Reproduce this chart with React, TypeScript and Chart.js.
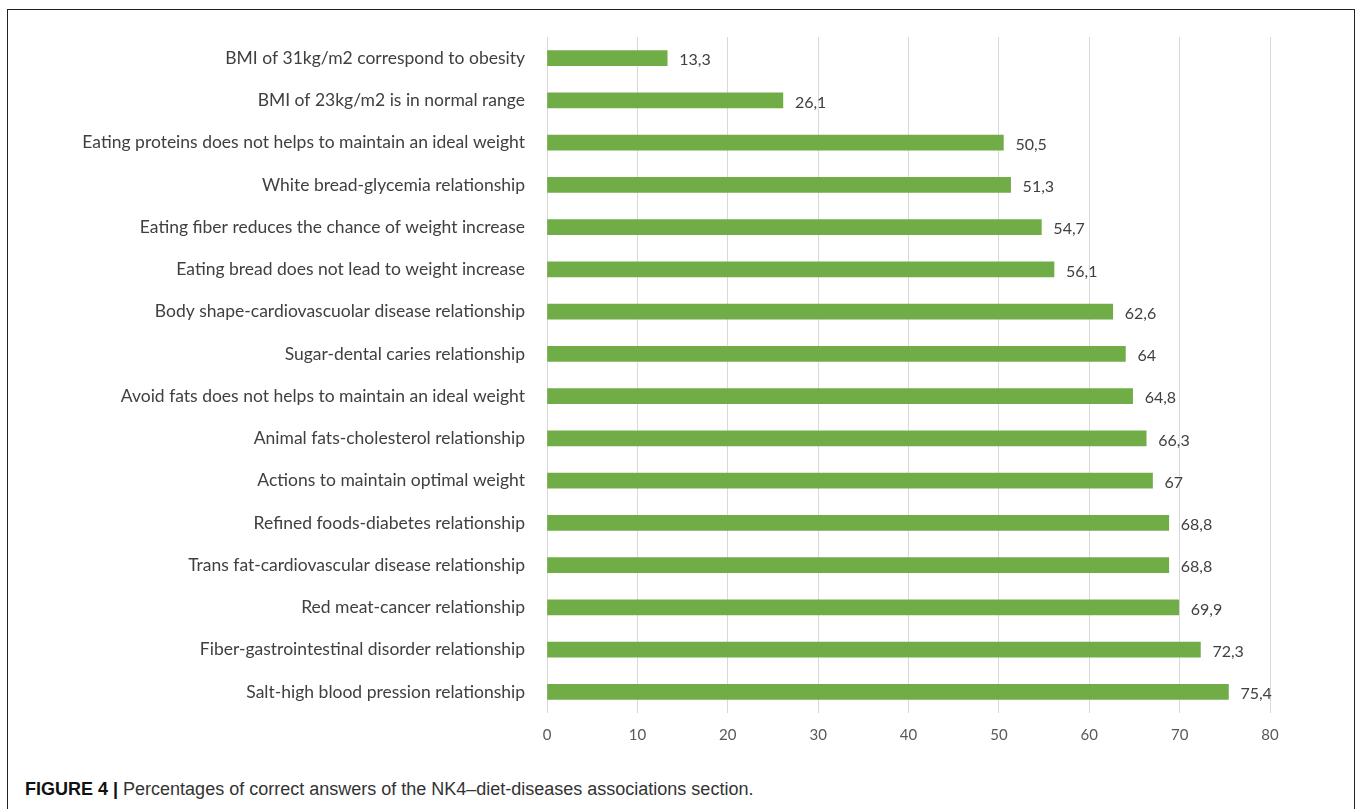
import React, { useEffect, useRef } from "react";
import { Chart, registerables } from "chart.js";

Chart.register(...registerables);

const categories = [
  "BMI of 31kg/m2 correspond to obesity",
  "BMI of 23kg/m2 is in normal range",
  "Eating proteins does not helps to maintain an ideal weight",
  "White bread-glycemia relationship",
  "Eating fiber reduces the chance of weight increase",
  "Eating bread does not lead to weight increase",
  "Body shape-cardiovascuolar disease relationship",
  "Sugar-dental caries relationship",
  "Avoid fats does not helps to maintain an ideal weight",
  "Animal fats-cholesterol relationship",
  "Actions to maintain optimal weight",
  "Refined foods-diabetes relationship",
  "Trans fat-cardiovascular disease relationship",
  "Red meat-cancer relationship",
  "Fiber-gastrointestinal disorder relationship",
  "Salt-high blood pression relationship",
];

const values = [13.3, 26.1, 50.5, 51.3, 54.7, 56.1, 62.6, 64, 64.8, 66.3, 67, 68.8, 68.8, 69.9, 72.3, 75.4];

const xTicks = [0, 10, 20, 30, 40, 50, 60, 70, 80];

const caption = "Percentages of correct answers of the NK4\u2013diet-diseases associations section.";

const FONT = "Lato";

const valueLabels = {
  id: "valueLabels",
  afterDatasetsDraw(chart: any) {
    const ctx = chart.ctx;
    const meta = chart.getDatasetMeta(0);
    ctx.save();
    ctx.fillStyle = "#404040";
    ctx.font = `16px ${FONT}`;
    ctx.textAlign = "left";
    ctx.textBaseline = "middle";
    meta.data.forEach((bar: any, i: number) => {
      const txt = String(values[i]).replace(".", ",");
      ctx.fillText(txt, bar.x + 12, bar.y + 2);
    });
    ctx.restore();
  },
};

export default function App() {
  const ref = useRef<HTMLCanvasElement>(null);
  useEffect(() => {
    if (!ref.current) return;
    const chart = new Chart(ref.current, {
      type: "bar",
      data: {
        labels: categories,
        datasets: [
          {
            data: values,
            backgroundColor: "#70ad47",
            borderWidth: 0,
            barThickness: 15,
          },
        ],
      },
      options: {
        indexAxis: "y",
        responsive: false,
        animation: false,
        maintainAspectRatio: false,
        layout: { padding: { left: 0, right: 84, top: 27, bottom: 13 } },
        plugins: { legend: { display: false }, tooltip: { enabled: false } },
        scales: {
          x: {
            min: 0,
            max: 80,
            afterBuildTicks: (scale: any) => {
              scale.ticks = xTicks.map((v) => ({ value: v }));
            },
            grid: { color: "#d9d9d9", drawTicks: false, lineWidth: 1 },
            border: { display: false },
            ticks: {
              color: "#595959",
              font: { family: FONT, size: 15 },
              padding: 13,
            },
          },
          y: {
            grid: { display: false },
            border: { display: false },
            afterFit: (scale: any) => {
              scale.width = 539;
            },
            ticks: {
              color: "#404040",
              font: { family: FONT, size: 17.5 },
              padding: 14,
              autoSkip: false,
            },
          },
        },
      },
      plugins: [valueLabels],
    });
    return () => chart.destroy();
  }, []);

  return (
    <div
      style={{
        position: "absolute",
        left: 7,
        top: 9,
        width: 1346,
        height: 820,
        border: "1px solid #222",
        background: "#fff",
      }}
    >
      <canvas
        ref={ref}
        width={1346}
        height={760}
        style={{ position: "absolute", left: 0, top: 0, width: 1346, height: 760 }}
      />
      <div
        style={{
          position: "absolute",
          left: 17,
          top: 769,
          fontFamily: "'Liberation Sans', Arial, sans-serif",
          fontSize: 18,
          color: "#333",
          whiteSpace: "nowrap",
        }}
      >
        <b style={{ color: "#111" }}>FIGURE 4 |</b> {caption}
      </div>
    </div>
  );
}
